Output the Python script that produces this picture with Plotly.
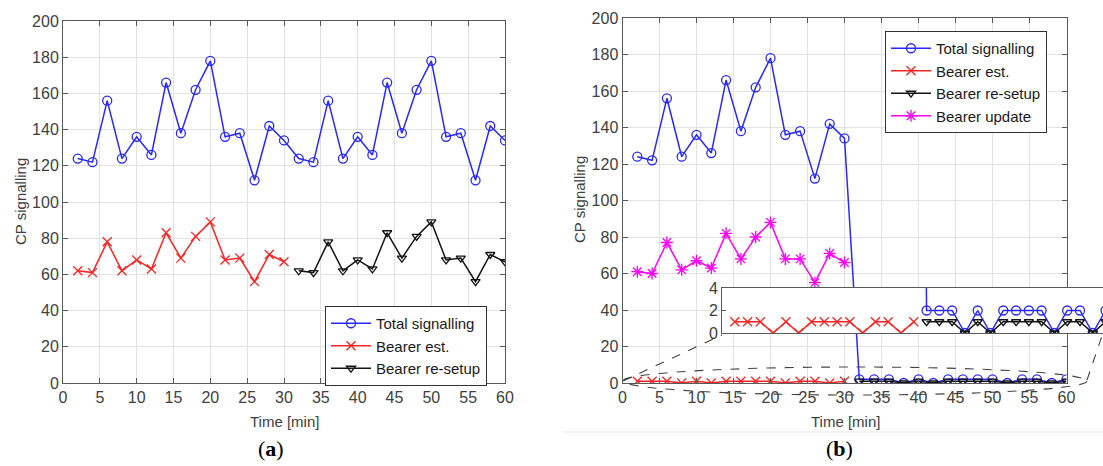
import plotly.graph_objects as go

# ---------------- data ----------------
minutes_first = [2, 4, 6, 8, 10, 12, 14, 16, 18, 20, 22, 24, 26, 28, 30]
minutes_second = [32, 34, 36, 38, 40, 42, 44, 46, 48, 50, 52, 54, 56, 58, 60]

# panel (a)
total_a_first = [124, 122, 156, 124, 136, 126, 166, 138, 162, 178, 136, 138, 112, 142, 134]
total_a_second = [124, 122, 156, 124, 136, 126, 166, 138, 162, 178, 136, 138, 112, 142, 134]
bearer_est_a = [62, 61, 78, 62, 68, 63, 83, 69, 81, 89, 68, 69, 56, 71, 67]
bearer_resetup_a = [62, 61, 78, 62, 68, 63, 83, 69, 81, 89, 68, 69, 56, 71, 67]

# panel (b)
total_b_first = [124, 122, 156, 124, 136, 126, 166, 138, 162, 178, 136, 138, 112, 142, 134]
total_b_second = [2, 2, 2, 0, 2, 0, 2, 2, 2, 2, 0, 2, 2, 0, 2]
bearer_est_b = [1, 1, 1, 0, 1, 0, 1, 1, 1, 1, 0, 1, 1, 0, 1]
bearer_resetup_b = [1, 1, 1, 0, 1, 0, 1, 1, 1, 1, 0, 1, 1, 0, 1]
bearer_update_b = [61, 60, 77, 62, 67, 63, 82, 68, 80, 88, 68, 68, 55, 71, 66]

x_ticks = [0, 5, 10, 15, 20, 25, 30, 35, 40, 45, 50, 55, 60]
y_ticks = [0, 20, 40, 60, 80, 100, 120, 140, 160, 180, 200]
inset_y_ticks = [0, 2, 4]

# ---------------- styles ----------------
W, H = 1103, 466
BLUE = "rgb(40,40,255)"
RED = "rgb(255,35,35)"
BLACK = "rgb(20,20,20)"
MAGENTA = "rgb(255,0,255)"
FONT = "Arial, Liberation Sans, sans-serif"
TICKC = "#404040"
AXC = "#5a5a5a"
GRIDC = "#e2e2e2"


def px_x(p):
    return p / W


def px_y(p):
    return (H - p) / H


def style(color, symbol, size=8):
    return dict(
        line=dict(color=color, width=1.5),
        marker=dict(symbol=symbol, size=size, color=color,
                    line=dict(color=color, width=1.3)),
    )


all_min = minutes_first + minutes_second
fig = go.Figure()

# ---- panel (a)
fig.add_trace(go.Scatter(x=all_min, y=total_a_first + total_a_second, mode="lines+markers",
                         name="Total signalling", xaxis="x", yaxis="y", legend="legend",
                         **style(BLUE, "circle-open", 9)))
fig.add_trace(go.Scatter(x=minutes_first, y=bearer_est_a, mode="lines+markers",
                         name="Bearer est.", xaxis="x", yaxis="y", legend="legend",
                         **style(RED, "x-thin-open", 9)))
fig.add_trace(go.Scatter(x=minutes_second, y=bearer_resetup_a, mode="lines+markers",
                         name="Bearer re-setup", xaxis="x", yaxis="y", legend="legend",
                         **style(BLACK, "triangle-down-open", 8)))

# ---- panel (b) main
fig.add_trace(go.Scatter(x=all_min, y=total_b_first + total_b_second, mode="lines+markers",
                         name="Total signalling", xaxis="x2", yaxis="y2", legend="legend2",
                         **style(BLUE, "circle-open", 9)))
fig.add_trace(go.Scatter(x=minutes_first, y=bearer_est_b, mode="lines+markers",
                         name="Bearer est.", xaxis="x2", yaxis="y2", legend="legend2",
                         **style(RED, "x-thin-open", 9)))
fig.add_trace(go.Scatter(x=minutes_second, y=bearer_resetup_b, mode="lines+markers",
                         name="Bearer re-setup", xaxis="x2", yaxis="y2", legend="legend2",
                         **style(BLACK, "triangle-down-open", 8)))
fig.add_trace(go.Scatter(x=minutes_first, y=bearer_update_b, mode="lines+markers",
                         name="Bearer update", xaxis="x2", yaxis="y2", legend="legend2",
                         **style(MAGENTA, "asterisk-open", 10)))

# ---- panel (b) inset
fig.add_trace(go.Scatter(x=all_min, y=total_b_first + total_b_second, mode="lines+markers",
                         showlegend=False, xaxis="x3", yaxis="y3",
                         **style(BLUE, "circle-open", 9)))
fig.add_trace(go.Scatter(x=minutes_first, y=bearer_est_b, mode="lines+markers",
                         showlegend=False, xaxis="x3", yaxis="y3",
                         **style(RED, "x-thin-open", 9)))
fig.add_trace(go.Scatter(x=minutes_second, y=bearer_resetup_b, mode="lines+markers",
                         showlegend=False, xaxis="x3", yaxis="y3",
                         **style(BLACK, "triangle-down-open", 8)))
fig.add_trace(go.Scatter(x=minutes_first, y=bearer_update_b, mode="lines+markers",
                         showlegend=False, xaxis="x3", yaxis="y3",
                         **style(MAGENTA, "asterisk-open", 10)))


def main_x(domain, anchor):
    return dict(domain=domain, anchor=anchor, range=[0, 60], tickvals=x_ticks,
                automargin=False,
                ticks="inside", ticklen=5, tickcolor=AXC, showline=True, linecolor=AXC,
                linewidth=1, mirror="allticks", showgrid=True, gridcolor=GRIDC, gridwidth=1,
                zeroline=False, tickfont=dict(family=FONT, size=16, color=TICKC))


def main_y(domain, anchor):
    return dict(domain=domain, anchor=anchor, range=[0, 200], tickvals=y_ticks,
                automargin=False,
                ticks="inside", ticklen=5, tickcolor=AXC, showline=True, linecolor=AXC,
                linewidth=1, mirror="allticks", showgrid=True, gridcolor=GRIDC, gridwidth=1,
                zeroline=False, tickfont=dict(family=FONT, size=16, color=TICKC))


legend_common = dict(bgcolor="white", bordercolor="#333", borderwidth=1,
                     font=dict(family=FONT, size=15, color="#1a1a1a"),
                     xanchor="left", yanchor="top", tracegroupgap=0, itemwidth=40)

fig.update_layout(
    width=W, height=H,
    margin=dict(l=0, r=0, t=0, b=0, pad=0),
    paper_bgcolor="white", plot_bgcolor="white",
    xaxis=main_x([px_x(63), px_x(505)], "y"),
    yaxis=main_y([px_y(383), px_y(21)], "x"),
    xaxis2=main_x([px_x(622.5), px_x(1066.5)], "y2"),
    yaxis2=main_y([px_y(383), px_y(18)], "x2"),
    xaxis3=dict(domain=[px_x(722), 1.0], anchor="y3", range=[0, 59.6], automargin=False,
                showticklabels=False, ticks="", showgrid=False, zeroline=False,
                showline=True, linecolor=AXC, linewidth=1, mirror=True),
    yaxis3=dict(domain=[px_y(333), px_y(288)], anchor="x3", range=[0, 4], automargin=False,
                tickvals=inset_y_ticks, ticks="inside", ticklen=4, tickcolor=AXC,
                showgrid=False, zeroline=False, showline=True, linecolor=AXC,
                linewidth=1, mirror=True,
                tickfont=dict(family=FONT, size=16, color=TICKC)),
    legend=dict(x=px_x(325), y=px_y(306), **legend_common),
    legend2=dict(x=px_x(885), y=px_y(31), **legend_common),
)

# axis titles and panel labels
ann = []
for cx in (284, 845):
    ann.append(dict(text="Time [min]", x=px_x(cx), y=px_y(421), xref="paper", yref="paper",
                    showarrow=False, font=dict(family=FONT, size=15, color=TICKC),
                    xanchor="center", yanchor="middle"))
for cx, cy in ((20, 202), (579, 200)):
    ann.append(dict(text="CP signalling", x=px_x(cx), y=px_y(cy), xref="paper", yref="paper",
                    showarrow=False, textangle=-90,
                    font=dict(family=FONT, size=15, color=TICKC),
                    xanchor="center", yanchor="middle"))
for txt, cx in (("(<b>a</b>)", 271), ("(<b>b</b>)", 839)):
    ann.append(dict(text=txt, x=px_x(cx), y=px_y(448), xref="paper", yref="paper",
                    showarrow=False,
                    font=dict(family="Liberation Serif, DejaVu Serif, serif", size=22,
                              color="black"),
                    xanchor="center", yanchor="middle"))
fig.update_layout(annotations=ann)

# zoom indicator: dashed ellipse and connectors, separator line
dash_line = dict(color="#444", width=1.1, dash="dash")
fig.add_shape(type="circle", xref="paper", yref="paper",
              x0=px_x(623), x1=px_x(1087), y0=px_y(395), y1=px_y(367),
              line=dash_line, layer="above")
fig.add_shape(type="line", xref="paper", yref="paper",
              x0=px_x(623), y0=px_y(381), x1=px_x(722), y1=px_y(335),
              line=dash_line, layer="above")
fig.add_shape(type="line", xref="paper", yref="paper",
              x0=px_x(1087), y0=px_y(380), x1=px_x(1103), y1=px_y(333),
              line=dash_line, layer="above")
fig.add_shape(type="line", xref="paper", yref="paper",
              x0=px_x(563), y0=px_y(432), x1=1.0, y1=px_y(432),
              line=dict(color="#e6e6e6", width=1), layer="below")

fig.write_html("out.html", config={"displayModeBar": False},
               post_script="document.body.style.margin='0';document.body.style.overflow='hidden';")
